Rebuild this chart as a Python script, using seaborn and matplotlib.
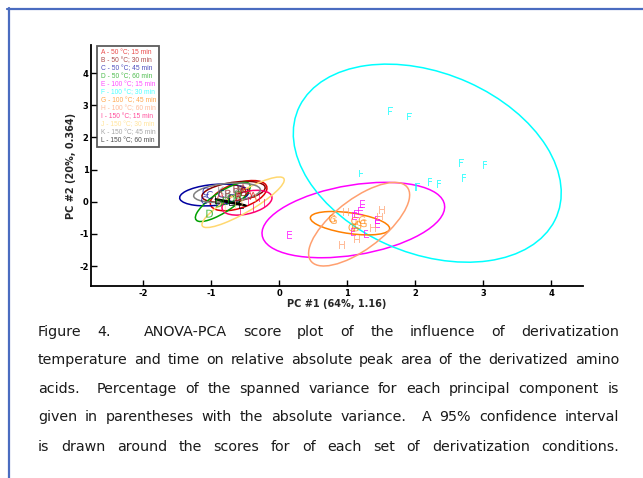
import numpy as np
import pandas as pd
import matplotlib
matplotlib.use("Agg")
import matplotlib.pyplot as plt
import seaborn as sns
from matplotlib.patches import Ellipse
from matplotlib.lines import Line2D

groups = list("ABCDEFGHIJKL")
conditions = ["50 °C; 15 min", "50 °C; 30 min", "50 °C; 45 min", "50 °C; 60 min",
              "100 °C; 15 min", "100 °C; 30 min", "100 °C; 45 min", "100 °C; 60 min",
              "150 °C; 15 min", "150 °C; 30 min", "150 °C; 45 min", "150 °C; 60 min"]
colors = ["#e00000", "#8b0000", "#0000a0", "#00a000", "#ff00ff", "#00ffff",
          "#ff8000", "#ffa070", "#ff0070", "#ffd870", "#808080", "#000000"]

# scores (PC #1, PC #2)
pc1_scores = {
    "A": [-0.53, -0.86, -0.45, -0.60, -0.38],
    "B": [-0.63, -0.56, -0.52, -0.75, -0.60],
    "C": [-1.08, -1.02, -1.10, -0.85, -0.70],
    "D": [-1.02, -0.88, -0.70, -0.60, -0.78],
    "E": [0.16, 1.23, 1.20, 1.14, 1.11, 1.45, 1.45, 1.09, 1.28],
    "F": [1.64, 1.92, 2.68, 3.03, 2.72, 2.22, 2.35, 2.04, 1.21],
    "G": [0.78, 0.80, 1.11, 1.22, 1.24, 1.16, 1.07, 1.12],
    "H": [0.98, 1.52, 1.48, 1.38, 1.15, 0.93],
    "I": [-0.57, -0.37, -0.22, -0.45, -0.28],
    "J": [-0.80, -0.55, -0.35, -0.65],
    "K": [-0.85, -0.62, -0.75, -0.55],
    "L": [-0.90, -0.70, -0.55],
}
pc2_scores = {
    "A": [0.42, 0.22, 0.30, 0.10, 0.18],
    "B": [0.40, 0.38, 0.30, 0.25, 0.15],
    "C": [0.32, 0.21, 0.05, 0.25, 0.12],
    "D": [-0.37, -0.05, 0.10, 0.22, 0.02],
    "E": [-1.03, -0.08, -0.28, -0.37, -0.45, -0.57, -0.68, -0.94, -1.01],
    "F": [2.81, 2.65, 1.21, 1.15, 0.75, 0.61, 0.55, 0.45, 0.88],
    "G": [-0.52, -0.57, -0.59, -0.57, -0.67, -0.73, -0.80, -0.80],
    "H": [-0.31, -0.26, -0.46, -0.82, -1.17, -1.35],
    "I": [-0.28, -0.20, -0.05, 0.02, 0.12],
    "J": [-0.20, -0.02, 0.12, -0.10],
    "K": [0.35, 0.30, 0.20, 0.40],
    "L": [0.06, -0.02, -0.09],
}

# 95% ellipses: centre, half extent along each axis, correlation
ell_cx = [-0.594, -0.668, -0.954, -0.826, 1.093, 2.18, 1.044, 1.178, -0.471, -0.528, -0.765, -0.71]
ell_cy = [0.19, 0.306, 0.21, -0.006, -0.569, 1.20, -0.667, -0.698, -0.03, -0.016, 0.28, -0.02]
ell_wx = [0.417, 0.465, 0.507, 0.404, 1.343, 1.97, 0.583, 0.743, 0.368, 0.605, 0.49, 0.23]
ell_wy = [0.47, 0.328, 0.339, 0.609, 1.172, 3.08, 0.364, 1.30, 0.386, 0.786, 0.303, 0.105]
ell_rho = [0.5, 0.4, 0.25, 0.8, 0.35, -0.30, -0.45, 0.7, 0.4, 0.88, 0.3, -0.97]

caption_lines = [
    "Figure 4.  ANOVA-PCA score plot of the influence of derivatization",
    "temperature and time on relative absolute peak area of the derivatized amino",
    "acids.  Percentage of the spanned variance for each principal component is",
    "given in parentheses with the absolute variance.  A 95% confidence interval",
    "is drawn around the scores for of each set of derivatization conditions.",
]

rows = []
for g in groups:
    for x, y in zip(pc1_scores[g], pc2_scores[g]):
        rows.append({"group": g, "pc1": x, "pc2": y})
df = pd.DataFrame(rows)

sns.set_style("ticks")
plt.rcParams["font.family"] = ["DejaVu Sans"]
plt.rcParams["axes.unicode_minus"] = False

W, H = 643, 478
fig = plt.figure(figsize=(W / 100, H / 100), dpi=100)
ax = fig.add_axes([91.3 / W, 1 - 286 / H, (583 - 91.3) / W, (286 - 45) / H])

palette = dict(zip(groups, colors))
markers = {g: f"$\\mathrm{{{g}}}$" for g in groups}
sns.scatterplot(data=df, x="pc1", y="pc2", hue="group", style="group",
                palette=palette, markers=markers, s=32, alpha=0.7,
                linewidth=0, legend=False, ax=ax, zorder=3)

for i, g in enumerate(groups):
    c = ell_rho[i] * ell_wx[i] * ell_wy[i]
    cov = np.array([[ell_wx[i] ** 2, c], [c, ell_wy[i] ** 2]])
    vals, vecs = np.linalg.eigh(cov)
    ang = np.degrees(np.arctan2(vecs[1, 1], vecs[0, 1]))
    ax.add_patch(Ellipse((ell_cx[i], ell_cy[i]), 2 * np.sqrt(vals[1]), 2 * np.sqrt(vals[0]),
                         angle=ang, fill=False, edgecolor=colors[i], lw=1.1, zorder=2))

ax.set_xlim(-2.76, 4.47)
ax.set_ylim(-2.62, 4.875)
ax.set_xticks(range(-2, 5))
ax.set_yticks(range(-2, 5))
sns.despine(ax=ax)
for sp in ["left", "bottom"]:
    ax.spines[sp].set_linewidth(1.3)
    ax.spines[sp].set_color("black")
ax.tick_params(direction="in", length=4, width=1, labelsize=6, pad=2, colors="black")
plt.setp(ax.get_xticklabels() + ax.get_yticklabels(), fontweight="bold")
ax.set_xlabel("PC #1 (64%, 1.16)", fontsize=7, fontweight="bold", labelpad=1)
ax.set_ylabel("PC #2 (20%, 0.364)", fontsize=7, fontweight="bold", labelpad=2)

handles = [Line2D([], [], linestyle="none") for g in groups]
labels = [f"{g} - {c}" for g, c in zip(groups, conditions)]
leg = ax.legend(handles, labels, loc="upper left", bbox_to_anchor=(0.012, 0.996),
                borderaxespad=0, handlelength=0, handletextpad=0, borderpad=0.5,
                labelspacing=0.14, fancybox=False, frameon=True,
                prop={"family": "Liberation Sans", "size": 4.8})
leg.get_frame().set_edgecolor("#333333")
leg.get_frame().set_linewidth(1.3)
for t, col in zip(leg.get_texts(), colors):
    t.set_color(col)
    t.set_alpha(0.7)

# page frame
fig.add_artist(Line2D([7 / W, 1], [1 - 8.5 / H] * 2, color="#4a6cc0", lw=1.6,
                      transform=fig.transFigure))
fig.add_artist(Line2D([8.5 / W] * 2, [0, 1 - 8 / H], color="#4a6cc0", lw=1.6,
                      transform=fig.transFigure))

# justified caption
renderer = fig.canvas.get_renderer()
left_px, right_px = 38, 619
line_y = [331.7, 360, 389, 417, 446.7]
for line, py in zip(caption_lines, line_y):
    tokens = line.split(" ")
    words, weights = [], []
    gap = 0
    for tok in tokens:
        if tok == "":
            gap += 1
            continue
        words.append(tok)
        weights.append(gap + 1 if words[:-1] else 0)
        gap = 0
    texts = [fig.text(0, 1 - py / H, w, fontsize=10.3, color="#1a1a1a", va="center")
             for w in words]
    widths = [t.get_window_extent(renderer).width for t in texts]
    unit = (right_px - left_px - sum(widths)) / sum(weights)
    x = left_px
    for t, w, wt in zip(texts, widths, weights):
        x += wt * unit
        t.set_x(x / W)
        x += w

fig.savefig("out.png", dpi=100)
